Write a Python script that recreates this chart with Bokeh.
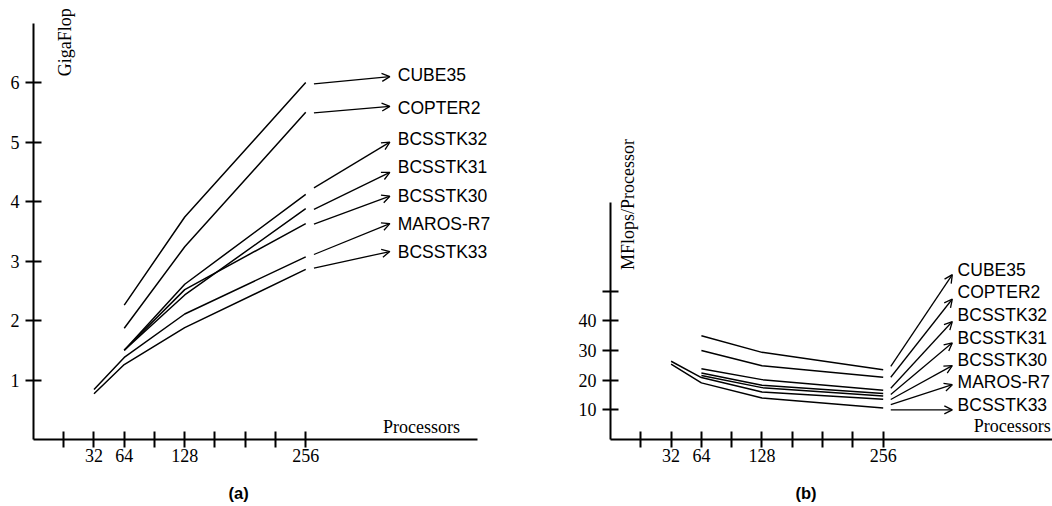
import math
from bokeh.plotting import figure
from bokeh.layouts import row
from bokeh.models import (ColumnDataSource, FixedTicker, Label, LabelSet, Arrow, OpenHead, Title)
from bokeh.core.properties import value
from bokeh.embed import file_html
from bokeh.resources import INLINE

nan = float("nan")

# ---------------- data ----------------
procs = [32, 64, 128, 256]
series = ["CUBE35", "COPTER2", "BCSSTK32", "BCSSTK31", "BCSSTK30", "MAROS-R7", "BCSSTK33"]

# (a) GigaFlop
giga_cube35 = [nan, 2.26, 3.74, 6.00]
giga_copter2 = [nan, 1.87, 3.24, 5.50]
giga_bcsstk32 = [nan, 1.50, 2.61, 4.12]
giga_bcsstk31 = [nan, 1.50, 2.43, 3.88]
giga_bcsstk30 = [nan, 1.50, 2.52, 3.63]
giga_maros_r7 = [0.84, 1.38, 2.11, 3.07]
giga_bcsstk33 = [0.77, 1.26, 1.88, 2.86]

# (b) MFlops/Processor
mfp_cube35 = [nan, 35.0, 29.4, 23.5]
mfp_copter2 = [nan, 30.0, 24.9, 21.0]
mfp_bcsstk32 = [nan, 23.9, 20.2, 16.6]
mfp_bcsstk31 = [nan, 22.4, 18.3, 15.5]
mfp_bcsstk30 = [nan, 21.6, 17.5, 14.7]
mfp_maros_r7 = [26.4, 20.9, 16.0, 13.6]
mfp_bcsstk33 = [25.4, 19.1, 14.0, 10.6]

x_ticks = [0, 32, 64, 96, 128, 160, 192, 224, 256]
x_tick_labels = ["", "32", "64", "", "128", "", "", "", "256"]
y_ticks_a = [1, 2, 3, 4, 5, 6]
y_tick_labels_a = ["1", "2", "3", "4", "5", "6"]
y_ticks_b = [10, 20, 30, 40, 50]
y_tick_labels_b = ["10", "20", "30", "40", ""]

# annotation anchors (arrow from / arrow tip / label) per series
arrow_from_a = [5.98, 5.49, 4.23, 3.87, 3.62, 3.11, 2.88]
arrow_tip_a = [6.10, 5.60, 5.00, 4.49, 4.09, 3.63, 3.16]
label_y_a = [6.13, 5.58, 5.06, 4.58, 4.10, 3.63, 3.15]

arrow_from_b = [24.7, 21.0, 17.3, 15.2, 13.5, 11.8, 10.0]
arrow_tip_b = [55.6, 47.4, 39.8, 32.6, 24.9, 18.5, 10.0]
label_y_b = [57.2, 49.7, 42.1, 34.4, 26.9, 19.3, 11.6]

SERIF = "Liberation Serif"
SANS = "Liberation Sans"


def style_axes(p, yt, ylabels, xb, yb):
    p.xaxis.ticker = FixedTicker(ticks=x_ticks)
    p.xaxis.major_label_overrides = {t: l for t, l in zip(x_ticks, x_tick_labels)}
    p.yaxis.ticker = FixedTicker(ticks=yt)
    p.yaxis.major_label_overrides = {t: l for t, l in zip(yt, ylabels)}
    p.xaxis.bounds = xb
    p.yaxis.bounds = yb
    for ax in (p.xaxis[0], p.yaxis[0]):
        ax.axis_line_width = 2
        ax.axis_line_color = "black"
        ax.major_tick_in = 8
        ax.major_tick_out = 8
        ax.major_tick_line_width = 2
        ax.major_tick_line_color = "black"
        ax.minor_tick_line_color = None
        ax.major_label_text_font = SERIF
        ax.major_label_text_font_size = "18px"
        ax.major_label_text_color = "black"
    p.xaxis.major_label_standoff = 1
    p.yaxis.major_label_standoff = 6
    p.xgrid.visible = False
    p.ygrid.visible = False
    p.outline_line_color = None


def make_panel(data, width, xr, yr, xb, yb, yt, ylabels, border_left,
               a_from, a_tip, lab_y, a_x0, a_x1, lab_x, caption, cap_offset):
    p = figure(width=width, height=518, x_range=xr, y_range=yr,
               output_backend="svg", toolbar_location=None,
               min_border_left=border_left, min_border_right=0,
               min_border_top=0, min_border_bottom=78)
    p.title.visible = False
    p.background_fill_color = "white"
    p.border_fill_color = "white"
    style_axes(p, yt, ylabels, xb, yb)
    for ys in data:
        p.line(procs, ys, line_color="black", line_width=1.5)
    src = ColumnDataSource(dict(x0=[a_x0] * len(series), y0=a_from,
                                x1=[a_x1] * len(series), y1=a_tip,
                                lx=[lab_x] * len(series), ly=lab_y, name=series))
    p.add_layout(Arrow(source=src, x_start="x0", y_start="y0", x_end="x1", y_end="y1",
                       line_width=1.3, line_color="black",
                       end=OpenHead(size=8, line_width=1.3, line_color="black")))
    p.add_layout(LabelSet(source=src, x="lx", y="ly", text="name",
                          text_font=value(SANS), text_font_size="17.5px",
                          text_baseline="middle", text_align="left", text_color="black"))
    p.add_layout(Title(text=caption, align="left", offset=cap_offset, text_font=SANS,
                       text_font_style="bold", text_font_size="16.5px", text_color="black",
                       standoff=34), "below")
    return p


pa = make_panel([giga_cube35, giga_copter2, giga_bcsstk32, giga_bcsstk31, giga_bcsstk30,
                 giga_maros_r7, giga_bcsstk33], 530,
                (-32, 493.8), (0, 7.38), (-32, 438), (0, 7), y_ticks_a, y_tick_labels_a, 33,
                arrow_from_a, arrow_tip_a, label_y_a, 264.7, 345, 353.4, "(a)", 195)
pa.add_layout(Label(x=1.3, y=6.68, text="GigaFlop", angle=math.pi / 2, text_font=SERIF,
                    text_font_size="18px", text_align="center", text_baseline="middle",
                    text_color="black"))
pa.add_layout(Label(x=337.7, y=0.21, text="Processors", text_font=SERIF,
                    text_font_size="18px", text_align="left", text_baseline="middle",
                    text_color="black"))

pb = make_panel([mfp_cube35, mfp_copter2, mfp_bcsstk32, mfp_bcsstk31, mfp_bcsstk30,
                 mfp_maros_r7, mfp_bcsstk33], 522,
                (-32, 434.8), (0, 148.1), (-32, 434.8), (0, 80), y_ticks_b, y_tick_labels_b, 80,
                arrow_from_b, arrow_tip_b, label_y_b, 264, 329, 334.6, "(b)", 185)
pb.add_layout(Label(x=-13.7, y=79.3, text="MFlops/Processor", angle=math.pi / 2, text_font=SERIF,
                    text_font_size="18px", text_align="center", text_baseline="middle",
                    text_color="black"))
pb.add_layout(Label(x=433, y=4.4, text="Processors", text_font=SERIF,
                    text_font_size="18px", text_align="right", text_baseline="middle",
                    text_color="black"))

layout = row(pa, pb, spacing=0)
html = file_html(layout, INLINE)
html = html.replace("</head>", "<style>html,body{overflow:hidden;}</style></head>", 1)
open("out.html", "w").write(html)
